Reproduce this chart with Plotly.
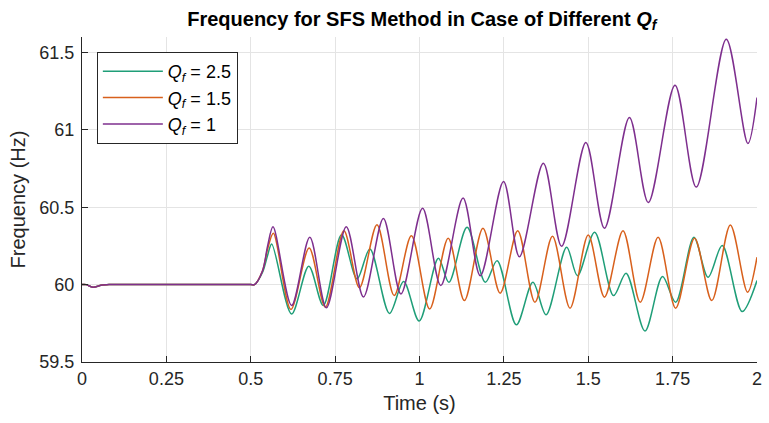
import plotly.graph_objects as go

# ---- data ----
t_start = [0, 0.012, 0.032, 0.06, 0.08, 0.5, 0.511, 0.535, 0.55]
v_start_p = [60, 60, 59.983, 59.998, 60, 60, 60, 60.09, 60.25]
v_start_o = [60, 60, 59.983, 59.998, 60, 60, 60, 60.09, 60.23]
v_start_g = [60, 60, 59.983, 59.998, 60, 60, 60, 60.08, 60.19]

t_q1 = [0.566, 0.621, 0.675, 0.724, 0.783, 0.834, 0.893, 0.945, 1.009, 1.063,
        1.129, 1.180, 1.249, 1.296, 1.367, 1.421, 1.493, 1.548, 1.622, 1.678,
        1.757, 1.820, 1.909, 1.973, 2.0]
v_q1 = [60.374, 59.865, 60.306, 59.85, 60.374, 59.92, 60.428, 59.94, 60.493, 59.994,
        60.559, 60.058, 60.667, 60.18, 60.785, 60.248, 60.919, 60.364, 61.08, 60.53,
        61.288, 60.63, 61.585, 60.912, 61.209]

t_q15 = [0.567, 0.619, 0.673, 0.721, 0.776, 0.822, 0.874, 0.925, 0.976, 1.030,
         1.085, 1.133, 1.188, 1.239, 1.291, 1.342, 1.394, 1.446, 1.5, 1.548,
         1.603, 1.654, 1.707, 1.759, 1.815, 1.866, 1.921, 1.972, 2.0]
v_q15 = [60.332, 59.84, 60.237, 59.854, 60.348, 59.98, 60.387, 59.93, 60.316, 59.843,
         60.3, 59.897, 60.364, 59.945, 60.348, 59.886, 60.312, 59.848, 60.32, 59.919,
         60.348, 59.886, 60.306, 59.848, 60.3, 59.897, 60.385, 59.951, 60.177]

t_q25 = [0.562, 0.621, 0.672, 0.715, 0.769, 0.815, 0.853, 0.911, 0.953, 0.999,
         1.056, 1.087, 1.141, 1.195, 1.23, 1.287, 1.336, 1.375, 1.436, 1.468,
         1.519, 1.575, 1.612, 1.668, 1.72, 1.759, 1.813, 1.855, 1.897, 1.956, 2.0]
v_q25 = [60.263, 59.81, 60.119, 59.865, 60.322, 60.037, 60.23, 59.814, 60.02, 59.765,
         60.17, 60.015, 60.37, 60.015, 60.155, 59.74, 60.015, 59.805, 60.241, 60.058,
         60.338, 59.929, 60.074, 59.70, 60.052, 59.886, 60.306, 60.048, 60.252, 59.826, 60.026]

x_ticks = [0, 0.25, 0.5, 0.75, 1, 1.25, 1.5, 1.75, 2]
x_tick_text = ["0", "0.25", "0.5", "0.75", "1", "1.25", "1.5", "1.75", "2"]
y_ticks = [59.5, 60, 60.5, 61, 61.5]
y_tick_text = ["59.5", "60", "60.5", "61", "61.5"]

series = [
    ("<i>Q</i><sub><i>f</i></sub> = 2.5", t_start + t_q25, v_start_g + v_q25, "#1f9e78"),
    ("<i>Q</i><sub><i>f</i></sub> = 1.5", t_start + t_q15, v_start_o + v_q15, "#d8601c"),
    ("<i>Q</i><sub><i>f</i></sub> = 1", t_start + t_q1, v_start_p + v_q1, "#7e2f8e"),
]

FONT = "Arial, Liberation Sans, Helvetica, sans-serif"
fig = go.Figure()
for name, xs, ys, col in series:
    fig.add_trace(go.Scatter(x=xs, y=ys, mode="lines", name=name,
                             line=dict(color=col, width=1.5, shape="spline", smoothing=0.9)))

axis_common = dict(showgrid=True, gridcolor="#e4e4e4", gridwidth=1, zeroline=False,
                   showline=True, linecolor="#262626", linewidth=1,
                   ticks="inside", ticklen=6, tickcolor="#262626",
                   tickfont=dict(family=FONT, size=18, color="#262626"))

fig.update_layout(
    width=769, height=423,
    margin=dict(l=82, r=7, t=37, b=61),
    paper_bgcolor="white", plot_bgcolor="white",
    title=dict(text="<b>Frequency for SFS Method in Case of Different <i>Q</i><sub><i>f</i></sub></b>",
               x=0.5485, xanchor="center", y=0.955, yanchor="middle",
               font=dict(family=FONT, size=20, color="black")),
    xaxis=dict(range=[0, 2], tickvals=x_ticks, ticktext=x_tick_text,
               title=dict(text="Time (s)", font=dict(family=FONT, size=20, color="#262626"), standoff=8),
               **axis_common),
    yaxis=dict(range=[59.5, 61.6], tickvals=y_ticks, ticktext=y_tick_text,
               ticklabelstandoff=3,
               title=dict(text="Frequency (Hz)", font=dict(family=FONT, size=20, color="#262626"), standoff=8),
               **axis_common),
    legend=dict(x=0.022, y=0.954, xanchor="left", yanchor="top",
                bgcolor="white", bordercolor="#262626", borderwidth=1,
                font=dict(family=FONT, size=18, color="black"),
                itemwidth=60, tracegroupgap=0),
    showlegend=True,
)

fig.write_html("out.html")
